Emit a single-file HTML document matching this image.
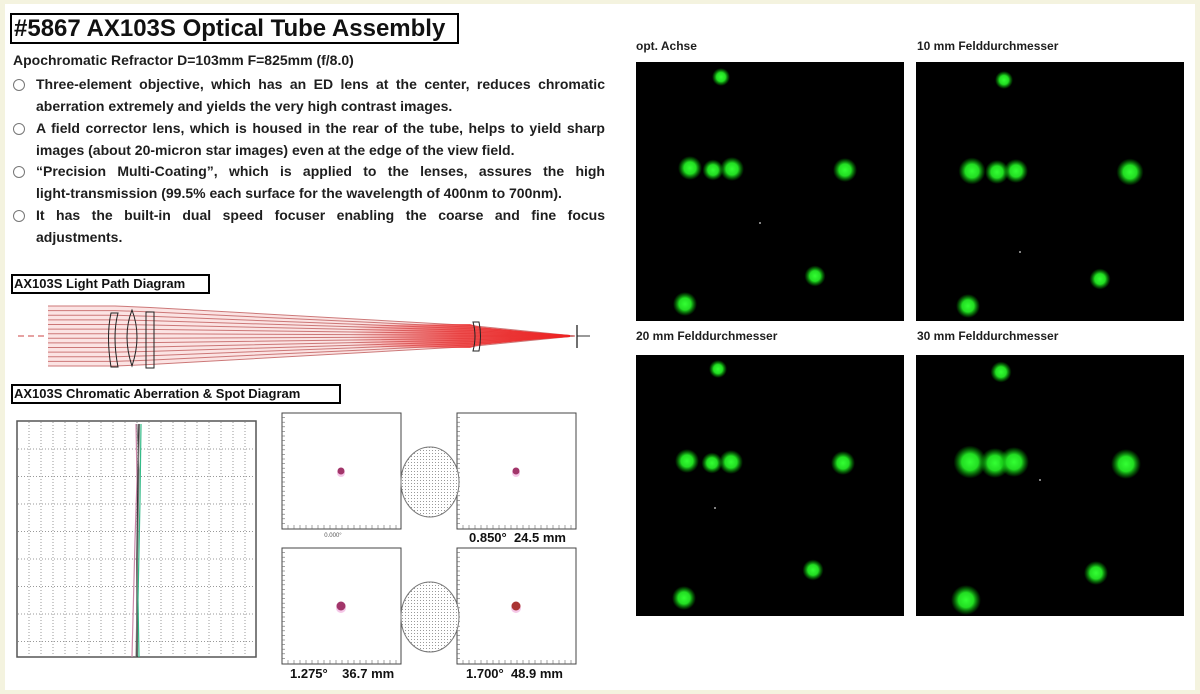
<!DOCTYPE html>
<html><head><meta charset="utf-8"><style>
html,body{margin:0;padding:0;}
body{width:1200px;height:694px;background:#f4f3df;position:relative;overflow:hidden;font-family:"Liberation Sans",sans-serif;}
#page{position:absolute;left:5px;top:4px;width:1190px;height:686px;background:#fff;}
.t{position:absolute;font-weight:bold;color:#1e1e1e;font-size:14px;white-space:nowrap;}
.j{position:absolute;left:36px;width:569px;font-weight:bold;font-size:14px;color:#1e1e1e;text-align:justify;text-align-last:justify;white-space:nowrap;}
.nl{text-align-last:left;}
.b{position:absolute;left:13px;width:10px;height:10px;border:1px solid #777;border-radius:50%;}
.box{position:absolute;border:2px solid #000;font-weight:bold;color:#111;white-space:nowrap;}
</style></head><body>
<div id="page"></div>
<div class="box" style="left:10px;top:13px;width:443px;height:27px;font-size:24px;line-height:27px;padding-left:2px;">#5867 AX103S Optical Tube Assembly</div>
<div class="t" style="left:13px;top:52px;">Apochromatic Refractor D=103mm F=825mm (f/8.0)</div>
<div class="b" style="top:79px"></div>
<div class="j" style="top:76px">Three-element objective, which has an ED lens at the center, reduces chromatic</div>
<div class="j nl" style="top:98px">aberration extremely and yields the very high contrast images.</div>
<div class="b" style="top:123px"></div>
<div class="j" style="top:120px">A field corrector lens, which is housed in the rear of the tube, helps to yield sharp</div>
<div class="j nl" style="top:142px">images (about 20-micron star images) even at the edge of the view field.</div>
<div class="b" style="top:166px"></div>
<div class="j" style="top:163px">“Precision Multi-Coating”, which is applied to the lenses, assures the high</div>
<div class="j nl" style="top:185px">light-transmission (99.5% each surface for the wavelength of 400nm to 700nm).</div>
<div class="b" style="top:210px"></div>
<div class="j" style="top:207px">It has the built-in dual speed focuser enabling the coarse and fine focus</div>
<div class="j nl" style="top:229px">adjustments.</div>
<div class="box" style="left:11px;top:274px;width:194px;height:16px;font-size:13px;line-height:16px;padding-left:1px;">AX103S Light Path Diagram</div>
<div class="box" style="left:11px;top:384px;width:325px;height:16px;font-size:13px;line-height:16px;padding-left:1px;">AX103S Chromatic Aberration &amp; Spot Diagram</div>
<div class="t" style="left:636px;top:39px;font-size:12px;">opt. Achse</div>
<div class="t" style="left:917px;top:39px;font-size:12px;">10 mm Felddurchmesser</div>
<div class="t" style="left:636px;top:329px;font-size:12px;">20 mm Felddurchmesser</div>
<div class="t" style="left:917px;top:329px;font-size:12px;">30 mm Felddurchmesser</div>
<svg id="s" width="1200" height="694" style="position:absolute;left:0;top:0">
<defs>
<radialGradient id="g"><stop offset="0" stop-color="#3f3"/><stop offset="0.5" stop-color="#2d2"/><stop offset="1" stop-color="#0a0" stop-opacity="0"/></radialGradient>
<linearGradient id="rg" x1="0" x2="1" y1="0" y2="0"><stop offset="0" stop-color="#e33" stop-opacity="0"/><stop offset="0.5" stop-color="#e33" stop-opacity="0.8"/><stop offset="1" stop-color="#e22"/></linearGradient>
<pattern id="dots" width="3" height="3" patternUnits="userSpaceOnUse"><rect width="3" height="3" fill="#fff"/><rect width="1" height="1" fill="#999"/></pattern>
</defs>
<rect x="636" y="62" width="268" height="259" fill="#000"/>
<rect x="916" y="62" width="268" height="259" fill="#000"/>
<rect x="636" y="355" width="268" height="261" fill="#000"/>
<rect x="916" y="355" width="268" height="261" fill="#000"/>
<g id="stars"></g>
<g id="lp"></g>
<rect x="17" y="421" width="239" height="236" fill="#fff" stroke="#555" stroke-width="1.5"/>
<g id="grid"></g>
<path d="M136 424 L137 480 L135 540 L132 657" stroke="#c8a" stroke-width="1.2" fill="none"/>
<path d="M139 424 L138 480 L137 560 L137 657" stroke="#333" stroke-width="1.5" fill="none"/>
<path d="M141 424 L140 500 L138 600 L139 657" stroke="#3b8" stroke-width="1.2" fill="none"/>
<path d="M137 424 L139 470 L136 657" stroke="#777" stroke-width="1" fill="none"/>
<g id="spots"></g>
<ellipse cx="430" cy="482" rx="29" ry="35" fill="url(#dots)" stroke="#777"/>
<ellipse cx="430" cy="617" rx="29" ry="35" fill="url(#dots)" stroke="#777"/>
<text x="333" y="537" font-size="6" fill="#555" text-anchor="middle" font-family="Liberation Sans">0.000°</text>
<g font-family="Liberation Sans" font-weight="bold" font-size="13" fill="#111">
<text x="469" y="542">0.850°&#160;&#160;24.5 mm</text>
<text x="290" y="678">1.275°&#160;&#160;&#160;&#160;36.7 mm</text>
<text x="466" y="678">1.700°&#160;&#160;48.9 mm</text>
</g>
</svg>
<script>
var NS="http://www.w3.org/2000/svg";
function el(p,t,a){var e=document.createElementNS(NS,t);for(var k in a)e.setAttribute(k,a[k]);p.appendChild(e);return e;}
var st=document.getElementById('stars');
var S=[[721,77,6],[690,168,8],[713,170,7],[732,169,8],[845,170,8],[815,276,7],[685,304,8],
[1004,80,6],[972,171,9],[997,172,8],[1016,171,8],[1130,172,9],[1100,279,7],[968,306,8],
[718,369,6],[687,461,8],[712,463,7],[731,462,8],[843,463,8],[813,570,7],[684,598,8],
[1001,372,7],[970,462,11],[995,463,10],[1014,462,10],[1126,464,10],[1096,573,8],[966,600,10]];
S.forEach(function(s){el(st,'circle',{cx:s[0],cy:s[1],r:s[2]*1.5,fill:'url(#g)'});});
[[760,223],[1020,252],[715,508],[1040,480]].forEach(function(p){el(st,'circle',{cx:p[0],cy:p[1],r:1,fill:'#aaa'});});
var lp=document.getElementById('lp');
el(lp,'polygon',{points:'48,306 115,306 470,326 470,346 115,366 48,366',fill:'#fbe3e3'});
for(var i=0;i<14;i++){var y=306+i*60/13;var ye=336+(y-336)*0.35;
el(lp,'polyline',{points:'48,'+y+' 115,'+y+' 150,'+(336+(y-336)*0.95)+' 470,'+ye+' 575,336',stroke:'#c77',"stroke-width":1,fill:'none'});}
el(lp,'polygon',{points:'350,325 470,324 480,327 530,332 570,335 570,337 530,340 480,345 470,348 350,347',fill:'url(#rg)'});
el(lp,'line',{x1:18,y1:336,x2:46,y2:336,stroke:'#c44',"stroke-dasharray":"6,4"});
el(lp,'line',{x1:577,y1:336,x2:590,y2:336,stroke:'#333'});
el(lp,'line',{x1:577,y1:325,x2:577,y2:348,stroke:'#222',"stroke-width":1.3});
el(lp,'path',{d:'M111 313 L118 313 Q112 336 118 367 L111 367 Q106 336 111 313Z',fill:'none',stroke:'#222'});
el(lp,'path',{d:'M132 310 Q142 336 132 366 Q122 336 132 310Z',fill:'none',stroke:'#222'});
el(lp,'rect',{x:146,y:312,width:8,height:56,fill:'none',stroke:'#222'});
el(lp,'path',{d:'M473 322 L479 322 Q482 336 479 351 L473 351 Q477 336 473 322Z',fill:'none',stroke:'#222'});
var g=document.getElementById('grid');
for(var x=17+12;x<256;x+=12)el(g,'line',{x1:x,y1:422,x2:x,y2:656,stroke:'#999',"stroke-dasharray":"1,2"});
for(var y=421+28;y<657;y+=27.5)el(g,'line',{x1:18,y1:y,x2:255,y2:y,stroke:'#999',"stroke-dasharray":"1,2"});
var sp=document.getElementById('spots');
[[282,413],[457,413],[282,548],[457,548]].forEach(function(b,k){
el(sp,'rect',{x:b[0],y:b[1],width:119,height:116,fill:'#fff',stroke:'#444'});
for(var i=1;i<25;i++){el(sp,'line',{x1:b[0],y1:b[1]+i*4.6,x2:b[0]+3,y2:b[1]+i*4.6,stroke:'#666',"stroke-width":0.6});}
for(var i=1;i<20;i++){el(sp,'line',{x1:b[0]+i*6,y1:b[1]+116,x2:b[0]+i*6,y2:b[1]+112,stroke:'#666',"stroke-width":0.6});}
var cx=b[0]+59,cy=b[1]+58;
el(sp,'circle',{cx:cx,cy:cy+2,r:k<2?4:5,fill:'#f5c8e8'});
el(sp,'circle',{cx:cx,cy:cy,r:k<2?3.5:4.5,fill:k==3?'#a33':'#a2356a'});
});
</script>
</body></html>
